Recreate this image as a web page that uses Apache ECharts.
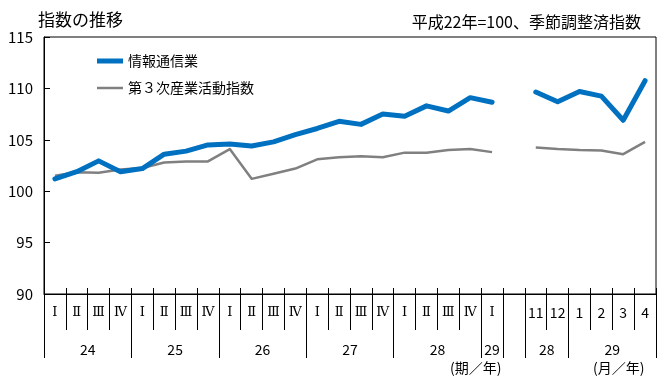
<!DOCTYPE html>
<html><head><meta charset="utf-8">
<script src="https://cdn.jsdelivr.net/npm/echarts@6/dist/echarts.min.js"></script>
<style>html,body{margin:0;padding:0;background:#fff}#c{width:670px;height:386px}</style>
</head><body><div id="c"></div>
<script>
const FONT = '"Noto Sans CJK JP", "Noto Sans", sans-serif';
const quarterLabels = ['Ⅰ','Ⅱ','Ⅲ','Ⅳ','Ⅰ','Ⅱ','Ⅲ','Ⅳ','Ⅰ','Ⅱ','Ⅲ','Ⅳ','Ⅰ','Ⅱ','Ⅲ','Ⅳ','Ⅰ','Ⅱ','Ⅲ','Ⅳ','Ⅰ'];
const monthLabels = ['11','12','1','2','3','4'];
const infoQuarter = [101.2, 101.9, 102.95, 101.9, 102.2, 103.6, 103.9, 104.5, 104.6, 104.4, 104.8, 105.5, 106.1, 106.8, 106.5, 107.5, 107.3, 108.3, 107.8, 109.1, 108.65];
const infoMonth = [109.65, 108.7, 109.7, 109.25, 106.9, 110.75];
const tertiaryQuarter = [101.5, 101.85, 101.8, 102.1, 102.25, 102.8, 102.9, 102.9, 104.1, 101.2, 101.7, 102.2, 103.1, 103.3, 103.4, 103.3, 103.75, 103.75, 104.0, 104.1, 103.8];
const tertiaryMonth = [104.25, 104.1, 104.0, 103.95, 103.6, 104.8];
// year labels placed at half-slot positions: [position in slots, label]
const yearLabels = [[2,'24'],[6,'25'],[10,'26'],[14,'27'],[18,'28'],[20.5,'29'],[23,'28'],[26,'29']];
const yearBoundaries = [0,4,8,12,16,20,21,22,24,28];
const seriesNames = ['情報通信業','第３次産業活動指数'];

const categories = quarterLabels.concat(['']).concat(monthLabels);
const nSlots = categories.length;
const halfCats = [];
for (let i = 0; i <= nSlots * 2; i++) halfCats.push('');
yearLabels.forEach(([p, t]) => { halfCats[Math.round(p * 2)] = t; });
const boundaryIdx = new Set(yearBoundaries.map(b => b * 2));
const romanSet = new Set(['Ⅰ','Ⅱ','Ⅲ','Ⅳ']);

const infoData = infoQuarter.concat([null]).concat(infoMonth);
const tertData = tertiaryQuarter.concat([null]).concat(tertiaryMonth);

const chart = echarts.init(document.getElementById('c'), null, {renderer: 'canvas'});
chart.setOption({
  animation: false,
  textStyle: {fontFamily: FONT},
  grid: {left: 44, right: 14, top: 37, bottom: 92, show: true, borderColor: '#000', borderWidth: 1, backgroundColor: 'transparent'},
  title: [
    {text: '指数の推移', left: 33, top: 6, textStyle: {fontFamily: FONT, fontSize: 17, fontWeight: 'normal', color: '#000'}},
    {text: '平成22年=100、季節調整済指数', right: 24, top: 9, textStyle: {fontFamily: FONT, fontSize: 16, fontWeight: 'normal', color: '#000'}}
  ],
  legend: {
    orient: 'vertical', left: 92, top: 49, itemGap: 13, itemWidth: 26, itemHeight: 14,
    textStyle: {fontFamily: FONT, fontSize: 14, color: '#000'},
    data: [
      {name: seriesNames[0], icon: 'path://M0,0H26V5H0Z', itemStyle: {color: '#0070C0'}},
      {name: seriesNames[1], icon: 'path://M0,0H26V2.5H0Z', itemStyle: {color: '#808080'}}
    ]
  },
  xAxis: [
    {type: 'category', data: categories, position: 'bottom', boundaryGap: true,
     axisLine: {show: true, lineStyle: {color: '#000', width: 1}},
     axisTick: {show: true, length: 36, lineStyle: {color: '#000', width: 1}},
     axisLabel: {interval: 0, margin: 12, fontSize: 14, color: '#000', fontFamily: FONT,
       formatter: v => romanSet.has(v) ? '{r|' + v + '}' : v,
       rich: {r: {fontFamily: '"DejaVu Serif", "Liberation Serif", serif', fontSize: 13, color: '#000'}}}},
    {type: 'category', data: categories, position: 'bottom', boundaryGap: true,
     axisLine: {show: false},
     axisTick: {show: true, inside: true, length: 6, lineStyle: {color: '#000', width: 1}},
     axisLabel: {show: false}},
    {type: 'category', data: halfCats, position: 'bottom', boundaryGap: false,
     axisLine: {show: false},
     axisTick: {show: true, length: 64, interval: (i) => boundaryIdx.has(i), lineStyle: {color: '#000', width: 1}},
     axisLabel: {interval: 0, margin: 49, fontSize: 14, color: '#000', fontFamily: FONT}}
  ],
  yAxis: {
    type: 'value', min: 90, max: 115, interval: 5,
    axisLine: {show: true, lineStyle: {color: '#000', width: 1}},
    axisTick: {show: true, inside: true, length: 6, lineStyle: {color: '#000'}},
    axisLabel: {margin: 11, fontSize: 15, color: '#000', fontFamily: FONT},
    splitLine: {show: false}
  },
  graphic: [
    {type: 'text', left: 450, top: 361, style: {text: '(期／年)', font: '14px ' + FONT, fill: '#000'}},
    {type: 'text', left: 593, top: 361, style: {text: '(月／年)', font: '14px ' + FONT, fill: '#000'}}
  ],
  series: [
    {name: seriesNames[0], type: 'line', data: infoData, xAxisIndex: 0, symbol: 'none', connectNulls: false,
     lineStyle: {color: '#0070C0', width: 5, join: 'round', cap: 'round'}, itemStyle: {color: '#0070C0'}, z: 3},
    {name: seriesNames[1], type: 'line', data: tertData, xAxisIndex: 0, symbol: 'none', connectNulls: false,
     lineStyle: {color: '#808080', width: 2.5, join: 'round'}, itemStyle: {color: '#808080'}, z: 2}
  ]
});
</script>
</body></html>
